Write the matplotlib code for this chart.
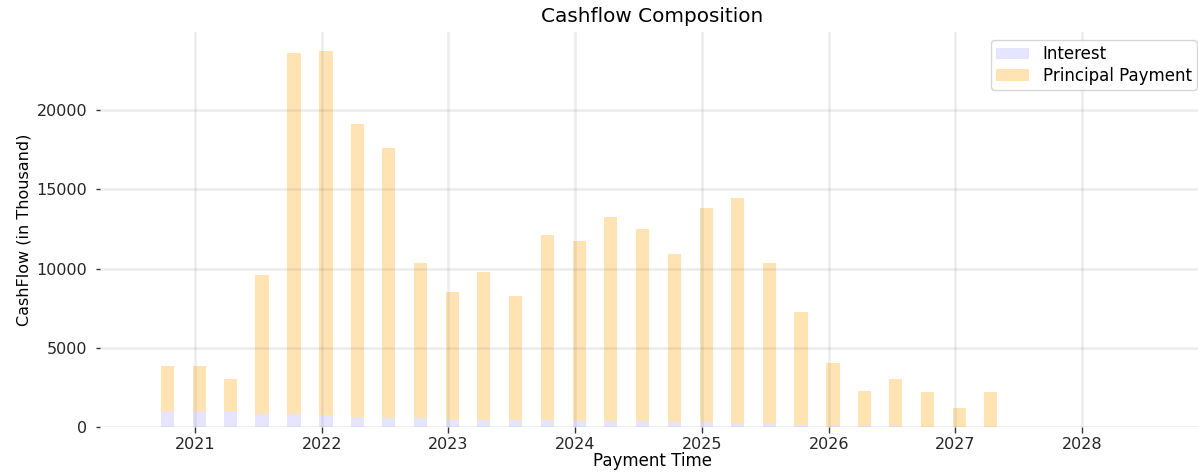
import numpy as np
import matplotlib
matplotlib.use('Agg')
import matplotlib.pyplot as plt
import matplotlib.dates as mdates
import datetime as dt

# quarterly payment dates
pay_dates = ['2020-10-13', '2021-01-13', '2021-04-13', '2021-07-13',
             '2021-10-13', '2022-01-13', '2022-04-13', '2022-07-13',
             '2022-10-13', '2023-01-13', '2023-04-13', '2023-07-13',
             '2023-10-13', '2024-01-13', '2024-04-13', '2024-07-13',
             '2024-10-13', '2025-01-13', '2025-04-13', '2025-07-13',
             '2025-10-13', '2026-01-13', '2026-04-13', '2026-07-13',
             '2026-10-13', '2027-01-13', '2027-04-13']

# in thousand
interest = [930, 930, 930, 840, 840, 740, 650, 550, 550, 460, 460, 460,
            460, 380, 380, 380, 300, 300, 210, 210, 110, 90, 60, 50,
            30, 20, 10]
total_cf = [3870, 3870, 3030, 9610, 23630, 23740, 19150, 17590, 10370,
            8520, 9810, 8250, 12100, 11720, 13280, 12480, 10900, 13840,
            14480, 10370, 7260, 4020, 2290, 3050, 2210, 1200, 2210]

principal = [t - i for t, i in zip(total_cf, interest)]
dates = [dt.datetime.strptime(d, '%Y-%m-%d') for d in pay_dates]

myfont = 12

fig = plt.figure(figsize=(11.98, 4.74), dpi=100)
# axes runs a few px past the right edge, like the original crop
ax = fig.add_axes([100 / 1198, 47 / 474, 1105 / 1198, 395 / 474])

ax.bar(dates, interest, width=38, color='blue', alpha=0.1, label='Interest')
ax.bar(dates, principal, width=38, bottom=interest, color='orange', alpha=0.3,
       label='Principal Payment')

ax.xaxis.set_major_locator(mdates.YearLocator())
ax.xaxis.set_major_formatter(mdates.DateFormatter('%Y'))
ax.set_xlim(dt.datetime(2020, 4, 2), dt.datetime(2028, 12, 20))
ax.set_ylim(0, 24930)

ax.grid(color='gray', alpha=0.15, linewidth=1.8)
for s in ax.spines.values():
    s.set_visible(False)
ax.tick_params(labelsize=11.5, labelcolor='#262626', color='#333333')
ax.tick_params(axis='x', length=4.5, width=1, pad=2.5)
ax.tick_params(axis='y', length=3, width=1, pad=6)

ax.set_title('Cashflow Composition', fontsize=14.4, pad=7)
ax.set_xlabel('Payment Time', fontsize=myfont, labelpad=0)
ax.set_ylabel('CashFlow (in Thousand)', fontsize=11.5)
ax.legend(fontsize=myfont, loc='upper right', labelspacing=0.2, borderpad=0.3)

fig.savefig('out.png', dpi=100)
